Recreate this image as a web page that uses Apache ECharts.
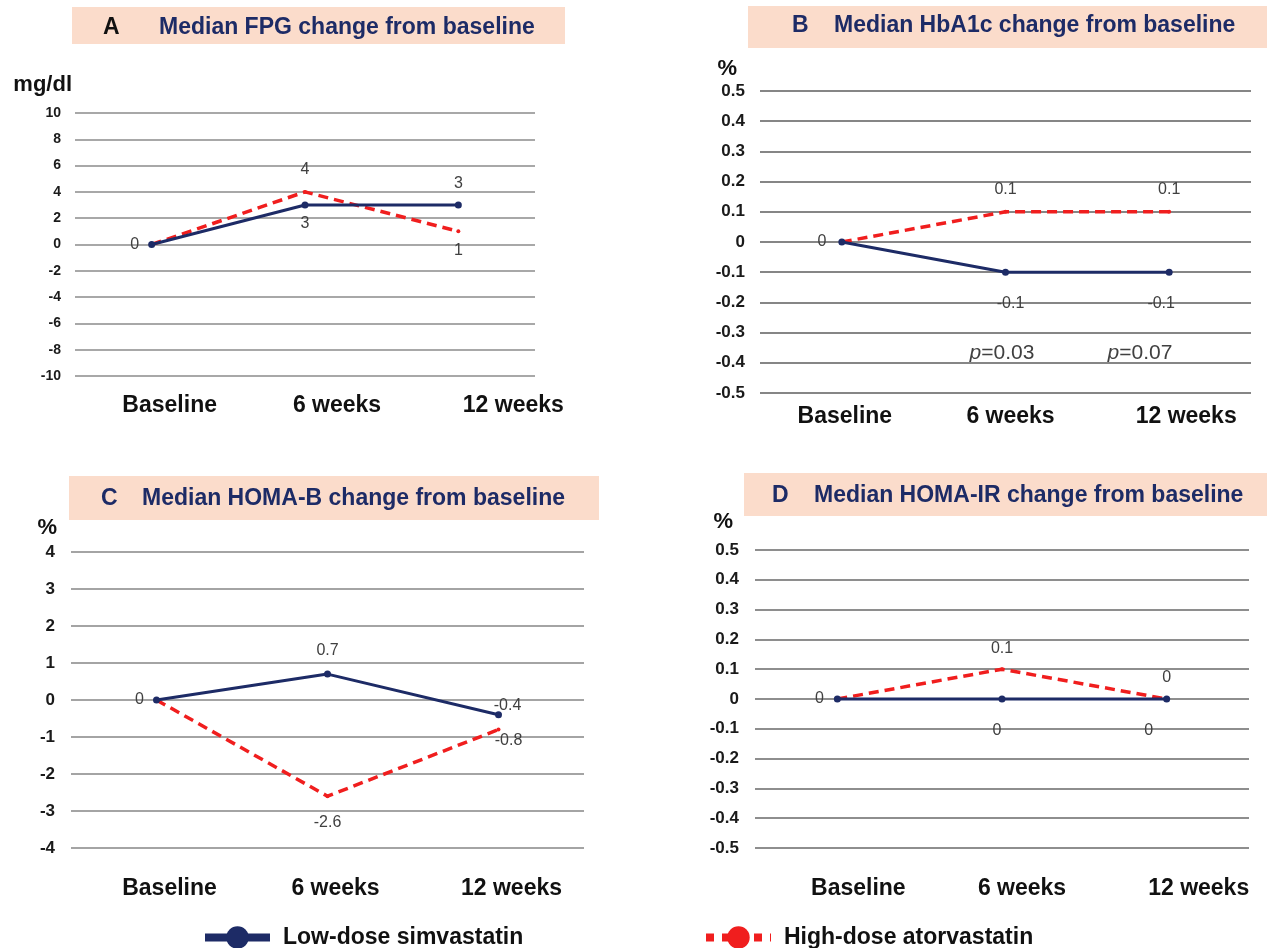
<!DOCTYPE html>
<html><head><meta charset="utf-8">
<script src="https://cdn.jsdelivr.net/npm/echarts@6/dist/echarts.min.js"></script>
<style>html,body{margin:0;padding:0;background:#fff}#c{width:1267px;height:948px}</style>
</head><body><div id="c"></div>
<script>
// ---------- data ----------
const categories = ['Baseline', '6 weeks', '12 weeks'];
const seriesNames = ['Low-dose simvastatin', 'High-dose atorvastatin'];
const fpgLow = [0, 3, 3];
const fpgHigh = [0, 4, 1];
const hba1cLow = [0, -0.1, -0.1];
const hba1cHigh = [0, 0.1, 0.1];
const homaBLow = [0, 0.7, -0.4];
const homaBHigh = [0, -2.6, -0.8];
const homaIRLow = [0, 0, 0];
const homaIRHigh = [0, 0.1, 0];
const panelLetters = ['A', 'B', 'C', 'D'];
const panelTitles = ['Median FPG change from baseline', 'Median HbA1c change from baseline',
  'Median HOMA-B change from baseline', 'Median HOMA-IR change from baseline'];
const yUnits = ['mg/dl', '%', '%', '%'];
const yMin = [-10, -0.5, -4, -0.5];
const yMax = [10, 0.5, 4, 0.5];
const yInterval = [2, 0.1, 1, 0.1];
const pValueLabels = ['0.03', '0.07'];
const lowData = [fpgLow, hba1cLow, homaBLow, homaIRLow];
const highData = [fpgHigh, hba1cHigh, homaBHigh, homaIRHigh];

// ---------- styles / layout ----------
const NAVY = '#1d2b66', RED = '#f01e1e', FONT = '"Liberation Sans", Arial, sans-serif';
const layout = [
  { grid: {left: 75, top: 113, width: 460, height: 263}, box: [72, 7, 493, 37], letterX: 103, letterColor: '#111', titleX: 159, titleY: 28,
    tickFont: 14, tickMargin: 14, unitGap: 28, unitPad: 3, catPad: [36, 64, 110], catMargin: 18, gridColor: '#a8a8a8',
    lowLab: [['left', 9, 0, 0], ['bottom', 7, 0, 0], ['top', 10, 0, 0]], highLab: [null, ['top', 12, 0, 0], ['bottom', 9, 0, 0]] },
  { grid: {left: 760, top: 91, width: 491, height: 302}, box: [748, 6, 519, 42], letterX: 792, letterColor: NAVY, titleX: 834, titleY: 26,
    tickFont: 17, tickMargin: 15, unitGap: 22, unitPad: 23, catPad: [6, 10, 34], catMargin: 12, gridColor: '#868686',
    lowLab: [['left', 12, 0, 0], ['bottom', 20, 5, 0], ['bottom', 20, -8, 0]], highLab: [null, ['top', 12, 0, 0], ['top', 12, 0, 0]] },
  { grid: {left: 71, top: 552, width: 513, height: 296}, box: [69, 476, 530, 44], letterX: 101, letterColor: NAVY, titleX: 142, titleY: 499,
    tickFont: 17, tickMargin: 16, unitGap: 24, unitPad: 14, catPad: [26, 16, 26], catMargin: 29, gridColor: '#a4a4a4',
    lowLab: [['left', 9, 0, 0], ['top', 12, 0, 0], ['top', 5, 9, 7]], highLab: [null, ['bottom', 16, 0, 0], ['bottom', 5, 10, -4]] },
  { grid: {left: 755, top: 550, width: 494, height: 298}, box: [744, 473, 523, 43], letterX: 772, letterColor: NAVY, titleX: 814, titleY: 496,
    tickFont: 17, tickMargin: 16, unitGap: 28, unitPad: 22, catPad: [42, 40, 64], catMargin: 29, gridColor: '#8e8e8e',
    lowLab: [['left', 10, 0, 0], ['bottom', 20, -5, 0], ['bottom', 20, -18, 0]], highLab: [null, ['top', 11, 0, 0], ['top', 11, 0, 0]] }
];

function pointData(values, labs) {
  return values.map((v, i) => {
    const s = labs[i];
    if (!s) return {value: v, label: {show: false}};
    return {value: v, label: {show: true, position: s[0], distance: s[1], offset: [s[2], s[3]]}};
  });
}

const grids = [], xAxes = [], yAxes = [], series = [], graphics = [];
layout.forEach((L, i) => {
  grids.push(Object.assign({containLabel: false}, L.grid));
  const rich = {};
  L.catPad.forEach((p, k) => { rich['c' + k] = {padding: [0, 0, 0, p], fontSize: 23, fontWeight: 'bold', color: '#111', fontFamily: FONT}; });
  xAxes.push({
    type: 'category', gridIndex: i, data: categories, boundaryGap: true,
    axisLine: {show: false}, axisTick: {show: false}, splitLine: {show: false},
    axisLabel: {interval: 0, margin: L.catMargin, fontSize: 23, fontWeight: 'bold', color: '#111', fontFamily: FONT,
      formatter: (v, idx) => '{c' + idx + '|' + v + '}', rich: rich}
  });
  yAxes.push({
    type: 'value', gridIndex: i, min: yMin[i], max: yMax[i], interval: yInterval[i],
    axisLine: {show: false}, axisTick: {show: false},
    splitLine: {show: true, lineStyle: {color: L.gridColor, width: 2}},
    axisLabel: {fontSize: L.tickFont, fontWeight: 'bold', color: '#1a1a1a', margin: L.tickMargin, fontFamily: FONT,
      formatter: v => String(+v.toFixed(1))},
    name: yUnits[i], nameLocation: 'end', nameGap: L.unitGap,
    nameTextStyle: {fontSize: 22, fontWeight: 'bold', color: '#111', align: 'right', verticalAlign: 'middle',
      padding: [0, L.unitPad, 0, 0], fontFamily: FONT}
  });
  const labelBase = {fontSize: 16, color: '#404040', fontFamily: FONT};
  series.push({
    name: seriesNames[1], type: 'line', xAxisIndex: i, yAxisIndex: i,
    data: pointData(highData[i], L.highLab), symbol: 'circle', symbolSize: 4,
    itemStyle: {color: RED}, lineStyle: {color: RED, width: 3.5, type: [10, 6]},
    label: labelBase, z: 2, animation: false
  });
  series.push({
    name: seriesNames[0], type: 'line', xAxisIndex: i, yAxisIndex: i,
    data: pointData(lowData[i], L.lowLab), symbol: 'circle', symbolSize: 7,
    itemStyle: {color: NAVY}, lineStyle: {color: NAVY, width: 3},
    label: labelBase, z: 3, animation: false
  });
  graphics.push({type: 'rect', shape: {x: L.box[0], y: L.box[1], width: L.box[2], height: L.box[3]},
    style: {fill: '#fbdccb'}, z: -1});
  graphics.push({type: 'text', x: L.letterX, y: L.titleY,
    style: {text: panelLetters[i], font: 'bold 23px ' + FONT, fill: L.letterColor, verticalAlign: 'middle'}});
  graphics.push({type: 'text', x: L.titleX, y: L.titleY,
    style: {text: panelTitles[i], font: 'bold 23px ' + FONT, fill: NAVY, verticalAlign: 'middle'}});
});
// p-values for panel B
const pPos = [[1002, 353], [1140, 353]];
pValueLabels.forEach((p, k) => {
  graphics.push({type: 'text', x: pPos[k][0], y: pPos[k][1],
    style: {text: '{i|p}=' + p, font: '21px ' + FONT, fill: '#404040', align: 'center', verticalAlign: 'middle',
      rich: {i: {fontStyle: 'italic', font: 'italic 21px ' + FONT, fill: '#404040'}}}});
});

const legendCommon = {itemWidth: 65, itemHeight: 28, top: 926, padding: 0, selectedMode: false,
  textStyle: {fontSize: 23, fontWeight: 'bold', color: '#111', fontFamily: FONT, padding: [0, 0, 0, 8]}};
const option = {
  animation: false,
  backgroundColor: '#fff',
  grid: grids, xAxis: xAxes, yAxis: yAxes, series: series, graphic: graphics,
  legend: [
    Object.assign({}, legendCommon, {data: [seriesNames[0]], left: 201, lineStyle: {width: 8, type: 'solid'}}),
    Object.assign({}, legendCommon, {data: [seriesNames[1]], left: 702, lineStyle: {width: 8, type: [8, 8]}})
  ]
};
const chart = echarts.init(document.getElementById('c'), null, {renderer: 'canvas'});
chart.setOption(option);
</script></body></html>
